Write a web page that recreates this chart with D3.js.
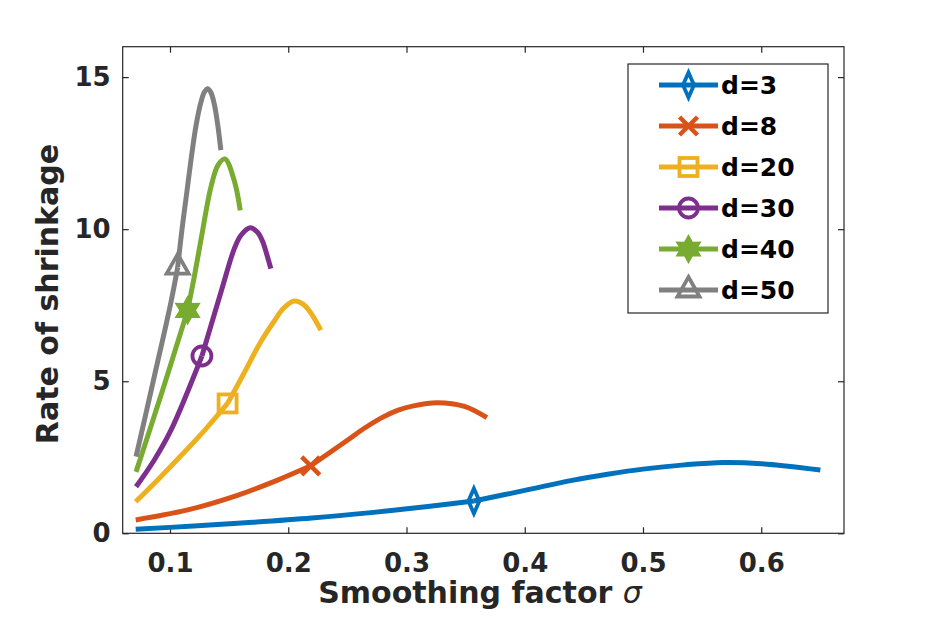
<!DOCTYPE html>
<html><head><meta charset="utf-8">
<script src="https://cdn.jsdelivr.net/npm/d3@7"></script>
<style>
body{margin:0;background:#fff;}
svg{display:block;}
text{font-family:"DejaVu Sans",sans-serif;}
</style>
</head><body>
<svg id="chart" width="934" height="619"></svg>
<script>
// ---- data ----
const seriesNames = ["d=3","d=8","d=20","d=30","d=40","d=50"];
const seriesColors = ["#0072BD","#D95319","#EDB120","#7E2F8E","#77AC30","#808080"];
const seriesMarkers = ["diamond","x","square","circle","hexagram","triangle"];

const sigma3 = [0.071,0.12,0.17,0.22,0.27,0.32,0.357,0.40,0.44,0.47,0.50,0.535,0.568,0.60,0.65];
const rate3  = [0.13,0.24,0.36,0.50,0.68,0.89,1.06,1.41,1.74,1.94,2.11,2.25,2.33,2.29,2.08];

const sigma8 = [0.071,0.115,0.157,0.191,0.219,0.25,0.265,0.28,0.293,0.306,0.326,0.349,0.368];
const rate8  = [0.44,0.77,1.25,1.75,2.22,3.06,3.47,3.82,4.05,4.19,4.29,4.17,3.80];

const sigma20 = [0.071,0.09,0.11,0.13,0.1487,0.162,0.1768,0.188,0.196,0.205,0.213,0.219,0.2275];
const rate20  = [1.04,1.77,2.58,3.42,4.27,5.22,6.30,6.97,7.40,7.64,7.52,7.25,6.68];

const sigma30 = [0.0713,0.0867,0.1008,0.127,0.144,0.1543,0.160,0.1678,0.174,0.1783,0.1853];
const rate30  = [1.53,2.41,3.39,5.83,8.05,9.35,9.80,10.05,9.90,9.60,8.70];

const sigma40 = [0.0713,0.0938,0.1149,0.1205,0.1262,0.1346,0.1405,0.1464,0.1543,0.1594];
const rate40  = [2.02,4.71,7.33,8.43,9.65,11.38,12.1,12.31,11.6,10.62];

const sigma50 = [0.0713,0.0867,0.1008,0.1065,0.110,0.114,0.118,0.122,0.126,0.129,0.1318,0.1345,0.1374,0.1405,0.143];
const rate50  = [2.52,5.15,7.60,8.75,9.95,11.15,12.35,13.4,14.15,14.5,14.62,14.5,14.12,13.4,12.6];

// index of the marked point (where each curve changes regime)
const markerIndex = [6,4,4,3,2,3];

const xTicks = [0.1,0.2,0.3,0.4,0.5,0.6];
const yTicks = [0,5,10,15];
const xDomain = [0.06,0.67];
const yDomain = [0,16];
const xLabel = "Smoothing factor ";
const xLabelSymbol = "σ";
const yLabel = "Rate of shrinkage";

const sigmas = [sigma3,sigma8,sigma20,sigma30,sigma40,sigma50];
const rates  = [rate3,rate8,rate20,rate30,rate40,rate50];

// ---- layout ----
const L = 122.7, R = 844, T = 46.7, B = 533.3;
const svg = d3.select("#chart");
const x = d3.scaleLinear().domain(xDomain).range([L,R]);
const y = d3.scaleLinear().domain(yDomain).range([B,T]);
const axisColor = "#262626";

svg.append("rect").attr("x",L).attr("y",T).attr("width",R-L).attr("height",B-T)
  .attr("fill","none").attr("stroke",axisColor).attr("stroke-width",1.2);

function styleAxis(g, showText){
  g.select(".domain").remove();
  g.selectAll(".tick line").attr("stroke",axisColor).attr("stroke-width",1.2);
  g.selectAll(".tick text").attr("fill",axisColor).attr("font-size",26).attr("font-weight","bold")
    .style("display", showText ? null : "none");
}
svg.append("g").attr("transform",`translate(0,${B})`)
  .call(d3.axisBottom(x).tickValues(xTicks).tickFormat(d3.format(".1f")).tickSize(-6).tickPadding(20))
  .call(g=>styleAxis(g,true));
svg.append("g").attr("transform",`translate(0,${T})`)
  .call(d3.axisTop(x).tickValues(xTicks).tickSize(-6))
  .call(g=>styleAxis(g,false));
svg.append("g").attr("transform",`translate(${L},0)`)
  .call(d3.axisLeft(y).tickValues(yTicks).tickFormat(d3.format("d")).tickSize(-6).tickPadding(12))
  .call(g=>styleAxis(g,true));
svg.append("g").attr("transform",`translate(${R},0)`)
  .call(d3.axisRight(y).tickValues(yTicks).tickSize(-6))
  .call(g=>styleAxis(g,false));

// axis labels
const xl = svg.append("text").attr("x",480).attr("y",603).attr("text-anchor","middle")
  .attr("fill",axisColor).attr("font-size",30).attr("font-weight","bold");
xl.append("tspan").text(xLabel);
xl.append("tspan").attr("font-style","italic").attr("font-weight","normal").text(xLabelSymbol);
svg.append("text").attr("transform",`translate(58,294) rotate(-90)`)
  .attr("text-anchor","middle").attr("fill",axisColor).attr("font-size",30).attr("font-weight","bold")
  .text(yLabel);

// markers
function drawMarker(g, type, cx, cy, color){
  let el, sw = 3.8, fill = "none";
  if(type==="diamond"){
    el = g.append("path").attr("d","M0,-12.5L5.5,0L0,12.5L-5.5,0Z");
  } else if(type==="x"){
    el = g.append("path").attr("d","M-9,-9L9,9M-9,9L9,-9"); sw = 4.5;
  } else if(type==="square"){
    el = g.append("rect").attr("x",-9).attr("y",-9).attr("width",18).attr("height",18);
  } else if(type==="circle"){
    el = g.append("circle").attr("r",9.5);
  } else if(type==="hexagram"){
    const pts=[];
    for(let k=0;k<12;k++){
      const a=(-90+k*30)*Math.PI/180, r=(k%2===0)?12.5:7;
      pts.push([r*Math.cos(a), r*Math.sin(a)]);
    }
    el = g.append("path").attr("d","M"+pts.map(p=>p.join(",")).join("L")+"Z"); fill = color; sw = 2.5;
  } else if(type==="triangle"){
    el = g.append("path").attr("d","M0,-13L11,6.5L-11,6.5Z");
  }
  el.attr("transform",`translate(${cx},${cy})`).attr("stroke",color)
    .attr("stroke-width",sw).attr("fill",fill).attr("stroke-linejoin","miter");
}

// lines: each curve drawn as two smooth pieces meeting at the marked point
const line = d3.line().x(d=>x(d[0])).y(d=>y(d[1])).curve(d3.curveCatmullRom.alpha(0.5));
const plot = svg.append("g");
sigmas.forEach((sx,i)=>{
  const pts = sx.map((s,j)=>[s,rates[i][j]]);
  const mi = markerIndex[i];
  [pts.slice(0,mi+1), pts.slice(mi)].forEach(seg=>{
    plot.append("path").datum(seg).attr("d",line).attr("fill","none")
      .attr("stroke",seriesColors[i]).attr("stroke-width",5).attr("stroke-linejoin","round");
  });
  drawMarker(plot, seriesMarkers[i], x(sx[mi]), y(rates[i][mi]), seriesColors[i]);
});

// legend
const lg = svg.append("g");
lg.append("rect").attr("x",628).attr("y",64).attr("width",200).attr("height",249)
  .attr("fill","#fff").attr("stroke",axisColor).attr("stroke-width",1.2);
seriesNames.forEach((n,i)=>{
  const cy = 85 + i*41;
  lg.append("line").attr("x1",659).attr("x2",718).attr("y1",cy).attr("y2",cy)
    .attr("stroke",seriesColors[i]).attr("stroke-width",5);
  drawMarker(lg, seriesMarkers[i], 688.5, cy, seriesColors[i]);
  lg.append("text").attr("x",721).attr("y",cy).attr("dy","0.36em")
    .attr("font-size",25).attr("font-weight","bold").attr("fill","#000").text(n);
});
</script>
</body></html>
